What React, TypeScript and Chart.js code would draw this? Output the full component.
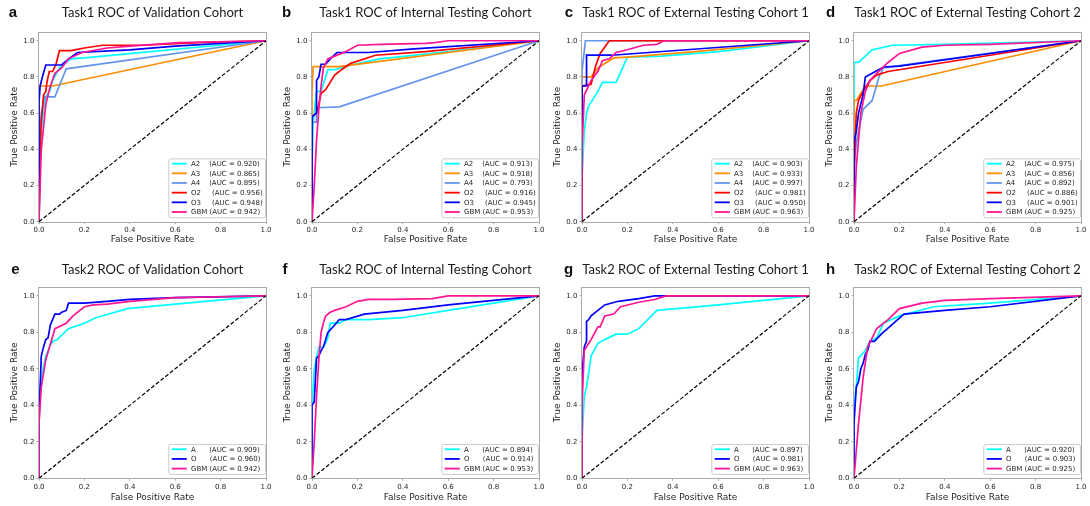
import React, { useEffect, useRef } from 'react';
import { Chart, registerables } from 'chart.js';
Chart.register(...registerables);

type Pt = [number, number];

// ---------- tick values ----------
const xTickValues = [0, 0.2, 0.4, 0.6, 0.8, 1.0];
const yTickValues = [0, 0.2, 0.4, 0.6, 0.8, 1.0];
const diagonal: Pt[] = [[0, 0], [1, 1]];

// ---------- model names / AUCs ----------
const task1Names = ['A2', 'A3', 'A4', 'O2', 'O3', 'GBM'];
const task1Pads = [4, 4, 4, 5, 5, 1];
const task2Names = ['A', 'O', 'GBM'];
const task2Pads = [6, 6, 1];

const aucA = [0.920, 0.865, 0.895, 0.956, 0.948, 0.942];
const aucB = [0.913, 0.918, 0.793, 0.916, 0.945, 0.953];
const aucC = [0.903, 0.933, 0.997, 0.981, 0.950, 0.963];
const aucD = [0.975, 0.856, 0.892, 0.886, 0.901, 0.925];
const aucE = [0.909, 0.960, 0.942];
const aucF = [0.894, 0.914, 0.953];
const aucG = [0.897, 0.981, 0.963];
const aucH = [0.920, 0.903, 0.925];

// ---------- panel a ----------
const aA2: Pt[] = [[0, 0], [0.005, 0.35], [0.01, 0.5], [0.02, 0.62], [0.03, 0.69], [0.05, 0.73], [0.06, 0.78], [0.09, 0.85], [0.14, 0.9], [0.2, 0.905], [1, 1]];
const aA3: Pt[] = [[0, 0], [0, 0.75], [0.06, 0.75], [1, 1]];
const aA4: Pt[] = [[0, 0], [0, 0.45], [0.01, 0.6], [0.025, 0.69], [0.07, 0.69], [0.12, 0.845], [1, 1]];
const aO2: Pt[] = [[0, 0], [0.005, 0.4], [0.01, 0.55], [0.02, 0.7], [0.03, 0.72], [0.035, 0.77], [0.045, 0.83], [0.06, 0.83], [0.075, 0.87], [0.09, 0.945], [0.14, 0.945], [0.2, 0.96], [0.28, 0.975], [0.45, 0.975], [0.7, 0.99], [1, 1]];
const aO3: Pt[] = [[0, 0], [0, 0.66], [0.005, 0.75], [0.015, 0.8], [0.03, 0.866], [0.1, 0.866], [0.13, 0.9], [0.17, 0.935], [0.4, 0.95], [0.6, 0.97], [1, 1]];
const aGBM: Pt[] = [[0, 0], [0.01, 0.4], [0.02, 0.52], [0.03, 0.65], [0.05, 0.75], [0.07, 0.82], [0.1, 0.85], [0.13, 0.9], [0.19, 0.935], [0.3, 0.96], [0.4, 0.97], [0.62, 0.99], [1, 1]];

// ---------- panel b ----------
const bA2: Pt[] = [[0, 0], [0, 0.3], [0.005, 0.55], [0.01, 0.6], [0.02, 0.72], [0.04, 0.72], [0.07, 0.84], [0.1, 0.84], [0.15, 0.86], [0.3, 0.9], [0.6, 0.94], [1, 1]];
const bA3: Pt[] = [[0, 0], [0, 0.72], [0.005, 0.857], [0.12, 0.857], [1, 1]];
const bA4: Pt[] = [[0, 0], [0, 0.55], [0.02, 0.55], [0.02, 0.63], [0.12, 0.635], [1, 1]];
const bO2: Pt[] = [[0, 0], [0, 0.58], [0.01, 0.59], [0.02, 0.6], [0.03, 0.65], [0.04, 0.71], [0.06, 0.73], [0.08, 0.77], [0.1, 0.81], [0.13, 0.84], [0.17, 0.875], [0.28, 0.92], [0.5, 0.94], [1, 1]];
const bO3: Pt[] = [[0, 0], [0, 0.58], [0.02, 0.6], [0.02, 0.78], [0.03, 0.8], [0.04, 0.87], [0.06, 0.87], [0.08, 0.9], [0.11, 0.935], [0.25, 0.935], [0.45, 0.955], [1, 1]];
const bGBM: Pt[] = [[0, 0], [0.01, 0.2], [0.02, 0.45], [0.03, 0.62], [0.04, 0.75], [0.05, 0.85], [0.07, 0.9], [0.1, 0.915], [0.15, 0.94], [0.2, 0.975], [0.3, 0.98], [0.5, 0.985], [0.54, 0.99], [0.6, 1.0], [1, 1]];

// ---------- panel c ----------
const cA2: Pt[] = [[0, 0], [0, 0.23], [0.01, 0.5], [0.02, 0.6], [0.03, 0.64], [0.05, 0.68], [0.07, 0.72], [0.09, 0.77], [0.15, 0.77], [0.2, 0.91], [0.35, 0.915], [0.6, 0.94], [1, 1]];
const cA3: Pt[] = [[0, 0], [0, 0.7], [0, 0.8], [0.04, 0.8], [0.07, 0.85], [0.14, 0.905], [0.2, 0.91], [0.5, 0.94], [1, 1]];
const cA4: Pt[] = [[0, 0], [0, 0.83], [0.015, 1.0], [1, 1]];
const cO2: Pt[] = [[0, 0], [0, 0.5], [0, 0.75], [0.04, 0.76], [0.06, 0.86], [0.08, 0.93], [0.12, 1.0], [1, 1]];
const cO3: Pt[] = [[0, 0], [0, 0.75], [0.02, 0.75], [0.02, 0.92], [0.13, 0.92], [1, 1]];
const cGBM: Pt[] = [[0, 0], [0, 0.4], [0.01, 0.7], [0.04, 0.78], [0.07, 0.83], [0.09, 0.89], [0.12, 0.9], [0.15, 0.935], [0.2, 0.95], [0.27, 0.975], [0.33, 0.98], [0.36, 1.0], [1, 1]];

// ---------- panel d ----------
const dA2: Pt[] = [[0, 0], [0, 0.88], [0.02, 0.88], [0.08, 0.95], [0.17, 0.975], [0.4, 0.98], [1, 1]];
const dA3: Pt[] = [[0, 0], [0, 0.5], [0, 0.67], [0.01, 0.67], [0.05, 0.75], [0.12, 0.75], [1, 1]];
const dA4: Pt[] = [[0, 0], [0, 0.3], [0.01, 0.43], [0.02, 0.5], [0.04, 0.62], [0.08, 0.67], [0.11, 0.8], [0.13, 0.85], [1, 1]];
const dO2: Pt[] = [[0, 0], [0, 0.25], [0.01, 0.6], [0.02, 0.67], [0.04, 0.72], [0.07, 0.78], [0.1, 0.81], [0.15, 0.83], [1, 1]];
const dO3: Pt[] = [[0, 0], [0, 0.44], [0.01, 0.5], [0.02, 0.6], [0.04, 0.7], [0.05, 0.8], [0.08, 0.82], [0.13, 0.855], [0.2, 0.86], [1, 1]];
const dGBM: Pt[] = [[0, 0], [0.01, 0.3], [0.03, 0.6], [0.05, 0.72], [0.07, 0.78], [0.1, 0.82], [0.15, 0.88], [0.2, 0.93], [0.3, 0.965], [0.4, 0.975], [0.6, 0.98], [1, 1]];

// ---------- panel e ----------
const eA: Pt[] = [[0, 0], [0, 0.45], [0.01, 0.55], [0.03, 0.67], [0.05, 0.73], [0.06, 0.75], [0.08, 0.76], [0.13, 0.82], [0.2, 0.85], [0.25, 0.88], [0.39, 0.93], [0.6, 0.955], [1, 1]];
const eO: Pt[] = [[0, 0], [0, 0.3], [0.005, 0.5], [0.01, 0.67], [0.02, 0.72], [0.03, 0.76], [0.04, 0.77], [0.05, 0.84], [0.07, 0.9], [0.09, 0.9], [0.1, 0.91], [0.12, 0.92], [0.13, 0.96], [0.2, 0.96], [0.3, 0.97], [0.4, 0.98], [0.6, 0.99], [1, 1]];
const eGBM: Pt[] = [[0, 0], [0, 0.3], [0.01, 0.5], [0.03, 0.65], [0.07, 0.82], [0.12, 0.85], [0.15, 0.89], [0.2, 0.94], [0.24, 0.95], [0.3, 0.955], [0.4, 0.97], [0.6, 0.99], [0.8, 0.995], [1, 1]];

// ---------- panel f ----------
const fA: Pt[] = [[0, 0], [0, 0.4], [0.01, 0.6], [0.03, 0.72], [0.05, 0.72], [0.06, 0.74], [0.07, 0.77], [0.08, 0.85], [0.12, 0.85], [0.15, 0.87], [0.25, 0.87], [0.4, 0.88], [0.6, 0.92], [1, 1]];
const fO: Pt[] = [[0, 0], [0, 0.4], [0.01, 0.42], [0.02, 0.66], [0.03, 0.67], [0.04, 0.7], [0.05, 0.72], [0.07, 0.8], [0.1, 0.84], [0.12, 0.87], [0.15, 0.87], [0.23, 0.9], [0.4, 0.92], [0.6, 0.95], [1, 1]];
const fGBM: Pt[] = [[0, 0], [0.01, 0.2], [0.02, 0.45], [0.03, 0.65], [0.04, 0.8], [0.05, 0.85], [0.06, 0.89], [0.08, 0.91], [0.1, 0.92], [0.15, 0.94], [0.2, 0.97], [0.25, 0.98], [0.35, 0.98], [0.53, 0.985], [0.6, 1.0], [1, 1]];

// ---------- panel g ----------
const gA: Pt[] = [[0, 0], [0, 0.2], [0.01, 0.45], [0.02, 0.5], [0.03, 0.58], [0.04, 0.67], [0.07, 0.74], [0.1, 0.76], [0.15, 0.79], [0.2, 0.79], [0.25, 0.82], [0.33, 0.92], [0.6, 0.95], [1, 1]];
const gO: Pt[] = [[0, 0], [0, 0.57], [0.01, 0.72], [0.02, 0.75], [0.02, 0.86], [0.03, 0.87], [0.04, 0.89], [0.07, 0.92], [0.1, 0.95], [0.16, 0.97], [0.25, 0.985], [0.32, 1.0], [1, 1]];
const gGBM: Pt[] = [[0, 0], [0, 0.4], [0.01, 0.7], [0.04, 0.76], [0.07, 0.83], [0.08, 0.83], [0.1, 0.89], [0.14, 0.9], [0.17, 0.94], [0.25, 0.965], [0.32, 0.98], [0.37, 1.0], [1, 1]];

// ---------- panel h ----------
const hA: Pt[] = [[0, 0], [0, 0.4], [0.01, 0.5], [0.02, 0.66], [0.05, 0.7], [0.07, 0.75], [0.1, 0.77], [0.13, 0.85], [0.2, 0.89], [0.35, 0.94], [0.6, 0.96], [1, 1]];
const hO: Pt[] = [[0, 0], [0, 0.3], [0.01, 0.5], [0.02, 0.53], [0.03, 0.6], [0.04, 0.63], [0.05, 0.68], [0.06, 0.7], [0.07, 0.75], [0.09, 0.75], [0.12, 0.79], [0.22, 0.9], [0.4, 0.92], [0.6, 0.94], [1, 1]];
const hGBM: Pt[] = [[0, 0], [0.02, 0.3], [0.04, 0.55], [0.06, 0.72], [0.08, 0.77], [0.1, 0.82], [0.15, 0.87], [0.2, 0.93], [0.3, 0.96], [0.4, 0.975], [0.6, 0.985], [1, 1]];

// ---------- styles ----------
const task1Colors = ['#00FFFF', '#FF8C00', '#6495ED', '#FF0000', '#0000FF', '#FF1493'];
const task2Colors = ['#00FFFF', '#0000FF', '#FF1493'];
const FRAME = '#ababab';
const TXT = '#262626';
const BASE_FONT = "'DejaVu Sans', sans-serif";
const TITLE_FONT = "Lato, 'Open Sans', sans-serif";

const panels = [
  { letter: 'a', title: 'Task1 ROC of Validation Cohort', row: 0, col: 0, names: task1Names, pads: task1Pads, colors: task1Colors, aucs: aucA, curves: [aA2, aA3, aA4, aO2, aO3, aGBM], letterDx: -26 },
  { letter: 'b', title: 'Task1 ROC of Internal Testing Cohort', row: 0, col: 1, names: task1Names, pads: task1Pads, colors: task1Colors, aucs: aucB, curves: [bA2, bA3, bA4, bO2, bO3, bGBM], letterDx: -25.5 },
  { letter: 'c', title: 'Task1 ROC of External Testing Cohort 1', row: 0, col: 2, names: task1Names, pads: task1Pads, colors: task1Colors, aucs: aucC, curves: [cA2, cA3, cA4, cO2, cO3, cGBM], letterDx: -13 },
  { letter: 'd', title: 'Task1 ROC of External Testing Cohort 2', row: 0, col: 3, names: task1Names, pads: task1Pads, colors: task1Colors, aucs: aucD, curves: [dA2, dA3, dA4, dO2, dO3, dGBM], letterDx: -23.3 },
  { letter: 'e', title: 'Task2 ROC of Validation Cohort', row: 1, col: 0, names: task2Names, pads: task2Pads, colors: task2Colors, aucs: aucE, curves: [eA, eO, eGBM], letterDx: -23.5 },
  { letter: 'f', title: 'Task2 ROC of Internal Testing Cohort', row: 1, col: 1, names: task2Names, pads: task2Pads, colors: task2Colors, aucs: aucF, curves: [fA, fO, fGBM], letterDx: -27 },
  { letter: 'g', title: 'Task2 ROC of External Testing Cohort 1', row: 1, col: 2, names: task2Names, pads: task2Pads, colors: task2Colors, aucs: aucG, curves: [gA, gO, gGBM], letterDx: -13.5 },
  { letter: 'h', title: 'Task2 ROC of External Testing Cohort 2', row: 1, col: 3, names: task2Names, pads: task2Pads, colors: task2Colors, aucs: aucH, curves: [hA, hO, hGBM], letterDx: -23.5 },
];

// ---------- layout ----------
const COL_PLOT_LEFT = [39, 312, 582, 854];
const PLOT_W = 227;
const Y_AXIS_W = 40;
const RIGHT_PAD = 14;
const ROWS = [
  { top: 0, h: 250, plotTop: 31.7, plotBottom: 221.7, titleCenter: 13.3, xTitleFromBottom: 10.7 },
  { top: 250, h: 256, plotTop: 36.7, plotBottom: 228.3, titleCenter: 20, xTitleFromBottom: 8.7 },
];
const TITLE_SIZE = 13;

const legendLabel = (name: string, pad: number, auc: number) =>
  name + ' '.repeat(pad) + '(AUC = ' + auc.toFixed(3) + ')';

const decorPlugin = {
  id: 'panelDecor',
  afterDatasetsDraw(chart: any) {
    const { ctx, chartArea: ca } = chart;
    const items = chart.data.datasets.filter((d: any) => d.inLegend);
    const n = items.length;
    const rowH = 9.67;
    const padV = 5.3;
    const w = 96.7;
    const h = padV * 2 + (n - 1) * rowH;
    const right = ca.right - 1;
    const bottom = ca.bottom - 4.4;
    const left = right - w;
    const top = bottom - h;
    ctx.save();
    ctx.beginPath();
    (ctx as any).roundRect(left + 0.5, top + 0.5, w, h, 2);
    ctx.fillStyle = 'rgba(255,255,255,0.85)';
    ctx.fill();
    ctx.strokeStyle = '#cccccc';
    ctx.lineWidth = 1;
    ctx.stroke();
    ctx.font = "7px 'DejaVu Sans'";
    ctx.textBaseline = 'middle';
    ctx.textAlign = 'left';
    items.forEach((d: any, i: number) => {
      const y = top + padV + i * rowH;
      ctx.beginPath();
      ctx.moveTo(left + 3.4, y);
      ctx.lineTo(left + 18.5, y);
      ctx.strokeStyle = d.borderColor;
      ctx.lineWidth = 1.8;
      ctx.stroke();
      ctx.fillStyle = TXT;
      ctx.fillText(d.label, left + 22.7, y + 0.5);
    });
    ctx.restore();
  },
  afterDraw(chart: any, _args: any, opts: any) {
    const { ctx, chartArea: ca } = chart;
    ctx.save();
    ctx.strokeStyle = FRAME;
    ctx.lineWidth = 1;
    ctx.strokeRect(Math.round(ca.left) - 0.5, Math.round(ca.top) + 0.5, Math.round(ca.right) - Math.round(ca.left) + 1, Math.round(ca.bottom) - Math.round(ca.top));
    ctx.fillStyle = '#111';
    ctx.font = "bold 15px 'Liberation Sans', Arial, sans-serif";
    ctx.textAlign = 'center';
    ctx.textBaseline = 'middle';
    ctx.fillText(opts.letter, ca.left + opts.letterDx, opts.letterY);
    ctx.restore();
  },
};

function Panel({ p }: { p: (typeof panels)[number] }) {
  const ref = useRef<HTMLCanvasElement>(null);
  const row = ROWS[p.row];
  const left = COL_PLOT_LEFT[p.col] - Y_AXIS_W;
  const width = Y_AXIS_W + PLOT_W + RIGHT_PAD;
  const height = row.h;
  useEffect(() => {
    const titleLH = TITLE_SIZE * 1.2;
    const titlePadTop = row.titleCenter - titleLH / 2;
    const titlePadBottom = row.plotTop - titleLH - titlePadTop;
    const xH = row.h - row.plotBottom;
    const axisLH = 9 * 1.2;
    const datasets: any[] = p.curves.map((c, i) => ({
      label: legendLabel(p.names[i], p.pads[i], p.aucs[i]),
      data: c.map(([x, y]) => ({ x, y })),
      borderColor: p.colors[i],
      backgroundColor: p.colors[i],
      borderWidth: 1.7,
      showLine: true,
      pointRadius: 0,
      tension: 0,
      fill: false,
      clip: false,
      order: 100 - i,
      inLegend: true,
    }));
    datasets.push({
      label: 'chance',
      data: diagonal.map(([x, y]) => ({ x, y })),
      borderColor: '#000000',
      backgroundColor: '#000000',
      borderWidth: 1.2,
      borderDash: [4, 2],
      showLine: true,
      pointRadius: 0,
      clip: false,
      order: 0,
      inLegend: false,
    });
    const chart = new Chart(ref.current as HTMLCanvasElement, {
      type: 'scatter',
      data: { datasets },
      options: {
        animation: false,
        responsive: false,
        devicePixelRatio: 1,
        events: [],
        layout: { padding: { left: 0, right: RIGHT_PAD, top: 0, bottom: 0 } },
        plugins: {
          legend: { display: false },
          tooltip: { enabled: false },
          title: {
            display: true,
            fullSize: false,
            text: p.title,
            color: '#1a1a1a',
            font: { family: TITLE_FONT, size: TITLE_SIZE, weight: 'normal', lineHeight: 1.2 },
            padding: { top: titlePadTop, bottom: titlePadBottom },
          },
          panelDecor: { letter: p.letter, letterDx: p.letterDx, letterY: row.titleCenter },
        } as any,
        scales: {
          x: {
            type: 'linear',
            min: 0,
            max: 1,
            afterBuildTicks: (s: any) => { s.ticks = xTickValues.map((v) => ({ value: v })); },
            afterFit: (s: any) => { s.height = xH; },
            ticks: {
              callback: (v: any) => Number(v).toFixed(1),
              font: { family: BASE_FONT, size: 7 },
              color: TXT,
              padding: 2,
              maxRotation: 0,
              autoSkip: false,
            },
            grid: { drawOnChartArea: false, drawTicks: true, tickLength: 2.5, color: FRAME },
            border: { display: false },
            title: {
              display: true,
              text: 'False Positive Rate',
              color: TXT,
              font: { family: BASE_FONT, size: 9, lineHeight: 1.2 },
              padding: { top: 0, bottom: row.xTitleFromBottom - axisLH / 2 },
            },
          },
          y: {
            type: 'linear',
            min: 0,
            max: 1.05,
            afterBuildTicks: (s: any) => { s.ticks = yTickValues.map((v) => ({ value: v })); },
            afterFit: (s: any) => { s.width = Y_AXIS_W; },
            ticks: {
              callback: (v: any) => Number(v).toFixed(1),
              font: { family: BASE_FONT, size: 7 },
              color: TXT,
              padding: 2,
              autoSkip: false,
            },
            grid: { drawOnChartArea: false, drawTicks: true, tickLength: 2.5, color: FRAME },
            border: { display: false },
            title: {
              display: true,
              text: 'True Positive Rate',
              color: TXT,
              font: { family: BASE_FONT, size: 9, lineHeight: 1.2 },
              padding: { top: 15.6 - axisLH / 2, bottom: 0 },
            },
          },
        },
      } as any,
      plugins: [decorPlugin as any],
    });
    return () => chart.destroy();
  }, []);
  return (
    <canvas
      ref={ref}
      width={width}
      height={height}
      style={{ position: 'absolute', left, top: row.top, width, height }}
    />
  );
}

export default function App() {
  return (
    <div style={{ position: 'fixed', left: 0, top: 0, width: 1090, height: 506, background: '#ffffff', overflow: 'hidden' }}>
      {panels.map((p) => (
        <Panel key={p.letter} p={p} />
      ))}
    </div>
  );
}
